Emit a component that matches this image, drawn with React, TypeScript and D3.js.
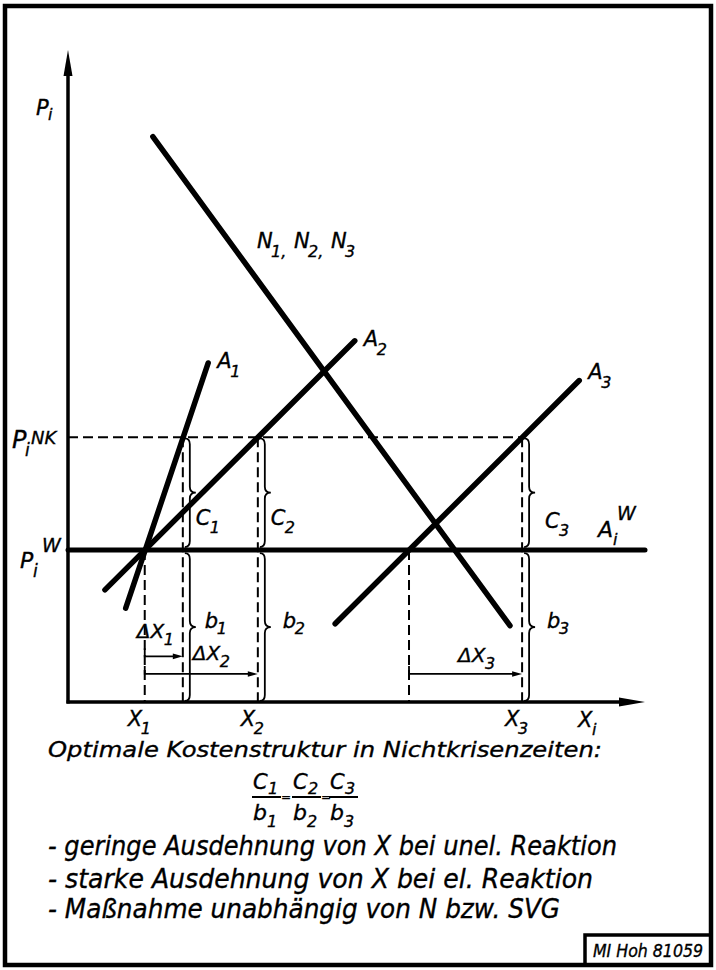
import React from "react";
import * as d3 from "d3";

const W = 716;
const H = 970;

// price levels (y units 0..100)
const priceW = 23.3; // P_i^W
const priceNK = 40.6; // P_i^NK

// supply lines A1, A2, A3 (start and end points)
const supplyIdx = ["1", "2", "3"];
const supplyX0 = [10.0, 6.4, 46.3];
const supplyY0 = [14.4, 17.2, 12.0];
const supplyX1 = [24.3, 49.7, 88.6];
const supplyY1 = [52.0, 55.4, 49.3];

// demand line N1, N2, N3
const demandX = [14.7, 76.6];
const demandY = [86.7, 11.7];
const demandIdx = ["1", "2", "3"];

// dashed drop lines
const dropX = [13.3, 19.9, 32.9, 59.1, 78.7];
const dropTop = [23.3, 40.6, 40.6, 23.3, 40.6];

// x tick labels
const xTickValues = [13.3, 32.9, 78.7];
const xTickIdx = ["1", "2", "3"];

// braces c_i / b_i
const braceX = [19.9, 32.9, 78.7];
const braceIdx = ["1", "2", "3"];

// delta X arrows
const deltaFrom = [13.3, 13.3, 59.1];
const deltaTo = [19.9, 32.9, 78.7];
const deltaY = [7.0, 4.3, 4.3];
const deltaIdx = ["1", "2", "3"];

const captionTitle = "Optimale Kostenstruktur in Nichtkrisenzeiten:";
const captionLines = [
  "- geringe Ausdehnung von X bei unel. Reaktion",
  "- starke Ausdehnung von X bei el. Reaktion",
  "- Maßnahme unabhängig von N bzw. SVG",
];
const captionWidths = [569, 545, 512];
const fractionIdx = ["1", "2", "3"];
const stamp = "MI Hoh 81059";

const F = "'DejaVu Sans', 'Liberation Sans', sans-serif";
const textSt = { fontFamily: F, fontStyle: "italic" as const, fill: "#000", stroke: "#000", strokeWidth: 0.35 };

function Sym(props: {
  x: number; y: number; base: string; size: number;
  sub?: string; subDx?: number; subDy?: number; subSize?: number;
  sup?: string; supDx?: number; supDy?: number; supSize?: number;
}) {
  return (
    <g>
      <text x={props.x} y={props.y} fontSize={props.size} {...textSt}>{props.base}</text>
      {props.sub && (
        <text x={props.x + (props.subDx ?? 0)} y={props.y + (props.subDy ?? 0)} fontSize={props.subSize ?? props.size * 0.72} {...textSt}>
          {props.sub}
        </text>
      )}
      {props.sup && (
        <text x={props.x + (props.supDx ?? 0)} y={props.y + (props.supDy ?? 0)} fontSize={props.supSize ?? props.size * 0.8} {...textSt}>
          {props.sup}
        </text>
      )}
    </g>
  );
}

export default function App() {
  const x = d3.scaleLinear().domain([0, 100]).range([68, 645]);
  const y = d3.scaleLinear().domain([0, 100]).range([702, 50]);
  const line = d3.line<[number, number]>().x((d) => x(d[0])).y((d) => y(d[1]));

  const brace = (xd: number, y0: number, y1: number) => {
    const a = xd + 2, b = xd + 7, t = xd + 13, m = (y0 + y1) / 2;
    return `M${a},${y0} Q${b},${y0} ${b},${y0 + 6} L${b},${m - 6} Q${b},${m} ${t},${m} Q${b},${m} ${b},${m + 6} L${b},${y1 - 6} Q${b},${y1} ${a},${y1}`;
  };

  const x0 = x(0), y0 = y(0), yTop = y(100), xEnd = x(100);

  return (
    <svg width={W} height={H} style={{ position: "absolute", left: 0, top: 0, background: "#fff" }}>
      <rect x={0} y={0} width={W} height={H} fill="#fff" />
      {/* frame */}
      <rect x={5} y={6} width={706} height={959} fill="none" stroke="#000" strokeWidth={4.5} />
      <rect x={585} y={935} width={126} height={30} fill="none" stroke="#000" strokeWidth={3.5} />
      <text x={593} y={957} fontSize={17} textLength={110} lengthAdjust="spacingAndGlyphs" {...textSt}>{stamp}</text>

      {/* dashed lines */}
      <path d={line([[0, priceNK], [dropX[4], priceNK]]) ?? ""} stroke="#000" strokeWidth={2} strokeDasharray="10,5" fill="none" />
      {dropX.map((v, i) => (
        <path key={"d" + i} d={line([[v, dropTop[i]], [v, 0]]) ?? ""} stroke="#000" strokeWidth={2} strokeDasharray="10,5" fill="none" />
      ))}

      {/* braces */}
      {braceX.map((v, i) => (
        <g key={"b" + i} fill="none" stroke="#000" strokeWidth={1.8}>
          <path d={brace(x(v), y(priceNK) + 1, y(priceW) - 3)} />
          <path d={brace(x(v), y(priceW) + 3, y(0) - 1)} />
        </g>
      ))}

      {/* delta arrows */}
      {deltaFrom.map((v, i) => {
        const xs = x(v), xe = x(deltaTo[i]), yy = y(deltaY[i]);
        return (
          <g key={"a" + i}>
            <path d={`M${xs},${yy - 8} L${xs},${yy} L${xe - 6},${yy}`} stroke="#000" strokeWidth={1.8} fill="none" />
            <path d={`M${xe},${yy} L${xe - 10},${yy - 2.8} L${xe - 10},${yy + 2.8} Z`} fill="#000" />
          </g>
        );
      })}

      {/* axes */}
      <line x1={x0} y1={y0 + 1.5} x2={x0} y2={yTop + 22} stroke="#000" strokeWidth={3.5} />
      <path d={`M${x0},${yTop} L${x0 - 4.5},${yTop + 26} L${x0 + 4.5},${yTop + 26} Z`} fill="#000" />
      <line x1={x0 - 1.5} y1={y0} x2={xEnd - 22} y2={y0} stroke="#000" strokeWidth={3.5} />
      <path d={`M${xEnd},${y0} L${xEnd - 26},${y0 - 4.5} L${xEnd - 26},${y0 + 4.5} Z`} fill="#000" />

      {/* P_W line */}
      <path d={line([[0, priceW], [100, priceW]]) ?? ""} stroke="#000" strokeWidth={5} fill="none" strokeLinecap="round" />

      {/* supply lines */}
      {supplyX0.map((v, i) => (
        <path key={"s" + i} d={line([[v, supplyY0[i]], [supplyX1[i], supplyY1[i]]]) ?? ""} stroke="#000" strokeWidth={5.5} strokeLinecap="round" fill="none" />
      ))}
      {/* demand line */}
      <path d={line([[demandX[0], demandY[0]], [demandX[1], demandY[1]]]) ?? ""} stroke="#000" strokeWidth={5.5} strokeLinecap="round" fill="none" />

      {/* labels */}
      <Sym x={x0 - 32} y={yTop + 65} base="P" size={21} sub="i" subDx={12} subDy={5} subSize={16} />
      <Sym x={xEnd - 67} y={y0 + 25} base="X" size={21} sub="i" subDx={14} subDy={8} subSize={16} />
      {xTickValues.map((v, i) => (
        <Sym key={"xt" + i} x={x(v) - 17} y={y0 + 24} base="X" size={21} sub={xTickIdx[i]} subDx={13} subDy={8} subSize={16} />
      ))}
      <Sym x={x0 - 56} y={y(priceNK) + 11} base="P" size={24} sub="i" subDx={13} subDy={8} subSize={17} sup="NK" supDx={19} supDy={-4} supSize={18} />
      <Sym x={x0 - 48} y={y(priceW) + 18} base="P" size={22} sub="i" subDx={13} subDy={9} subSize={17} sup="W" supDx={22} supDy={-16} supSize={19} />

      {/* N label */}
      {demandIdx.map((s, i) => (
        <Sym key={"n" + i} x={257 + i * 37} y={248} base="N" size={21} sub={s + (i < 2 ? "," : "")} subDx={14} subDy={9} subSize={16} />
      ))}

      {supplyIdx.map((s, i) => (
        <Sym key={"al" + i} x={x(supplyX1[i]) + 9} y={y(supplyY1[i]) + (i === 2 ? -2 : 5)} base="A" size={21} sub={s} subDx={13} subDy={9} subSize={16} />
      ))}
      <Sym x={xEnd - 47} y={y(priceW) - 13} base="A" size={22} sub="i" subDx={15} subDy={8} subSize={16} sup="W" supDx={19} supDy={-17} supSize={19} />

      {braceX.map((v, i) => (
        <g key={"cl" + i}>
          <Sym x={x(v) + (i === 2 ? 23 : 13)} y={y(priceW) - 25 + (i === 2 ? 3 : 0)} base="C" size={21} sub={braceIdx[i]} subDx={14} subDy={8} subSize={16} />
          <Sym x={x(v) + (i === 0 ? 22 : 25)} y={y(0) - 74} base="b" size={21} sub={braceIdx[i]} subDx={12} subDy={6} subSize={16} />
        </g>
      ))}

      {deltaFrom.map((v, i) => (
        <Sym key={"dl" + i} x={i === 0 ? x(v) - 8 : x(deltaTo[i]) - (i === 1 ? 65 : 64)} y={y(deltaY[i]) + (i === 0 ? -18 : -14) + (i === 2 ? 2 : 0)} base="ΔX" size={20} sub={deltaIdx[i]} subDx={27} subDy={7} subSize={16} />
      ))}

      {/* caption */}
      <text x={48} y={757} fontSize={22} textLength={554} lengthAdjust="spacingAndGlyphs" {...textSt}>{captionTitle}</text>
      {fractionIdx.map((s, i) => {
        const fx = [253, 293, 330][i];
        return (
          <g key={"fr" + i}>
            <Sym x={fx} y={789} base="C" size={21} sub={s} subDx={15} subDy={5} subSize={16} />
            <line x1={fx - 1} x2={fx + 28} y1={797} y2={797} stroke="#000" strokeWidth={2} />
            <Sym x={fx} y={820} base="b" size={22} sub={s} subDx={14} subDy={7} subSize={16} />
            {i < 2 && <text x={fx + 28} y={801} fontSize={12} {...textSt}>=</text>}
          </g>
        );
      })}
      {captionLines.map((t, i) => (
        <text key={"cap" + i} x={48} y={[855, 888, 918][i]} fontSize={26} textLength={captionWidths[i]} lengthAdjust="spacingAndGlyphs" {...textSt}>{t}</text>
      ))}
    </svg>
  );
}
